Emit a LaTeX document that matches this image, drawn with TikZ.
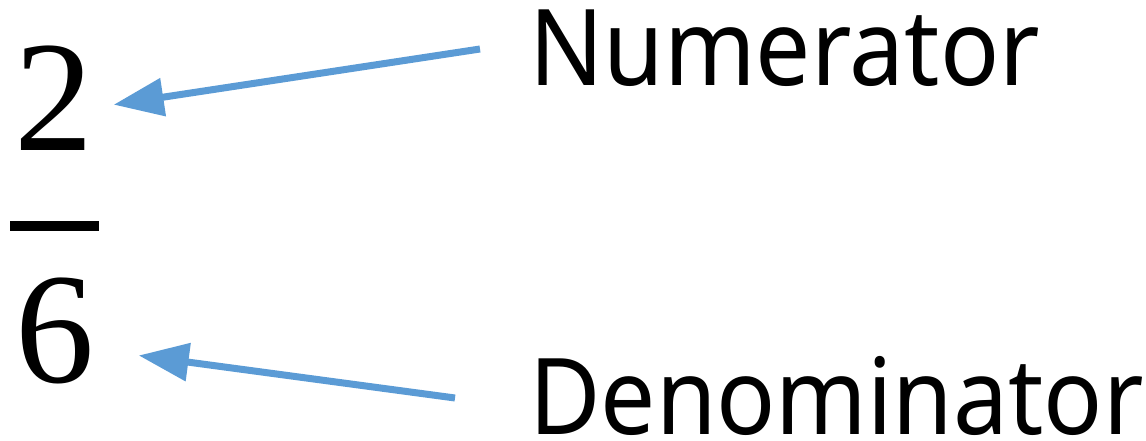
\documentclass[tikz,border=0pt]{standalone}
\usepackage{fontspec}
\setmainfont{Liberation Serif}
\newfontfamily\labelfont{Noto Sans}
\usetikzlibrary{arrows.meta}
\definecolor{arrowblue}{HTML}{5B9BD5}
\tikzset{
  digit/.style={inner sep=0pt, font=\fontsize{158}{160}\selectfont},
  term/.style={inner sep=0pt, anchor=base west, xscale=0.925,
               font=\labelfont\fontsize{106}{120}\selectfont},
  pointer/.style={arrowblue, line width=7pt,
                  -{Triangle[length=50pt,width=37pt]}},
}
\begin{document}
\begin{tikzpicture}[x=1pt,y=1pt]
  \useasboundingbox (0,0) rectangle (1146,440);
  % fraction 2/6
  \node[digit, anchor=base] (two) at (54,289) {2};
  \node[digit, anchor=base] (six) at (55,58) {6};
  \draw[line width=10pt] (10,214.5) coordinate (barL) -- (99,214.5) coordinate (barR);
  % labels
  \node[term] (num) at (529,354) {Numerator};
  \node[term] (den) at (529,6) {Denominator};
  % pointers from the labels to the digits
  \draw[pointer] ([shift={(-49pt,37pt)}]num.base west) -- ([shift={(20pt,-6pt)}]two.east);
  \draw[pointer] ([shift={(-74pt,36pt)}]den.base west) -- ([shift={(44pt,-25pt)}]six.east);
\end{tikzpicture}
\end{document}
